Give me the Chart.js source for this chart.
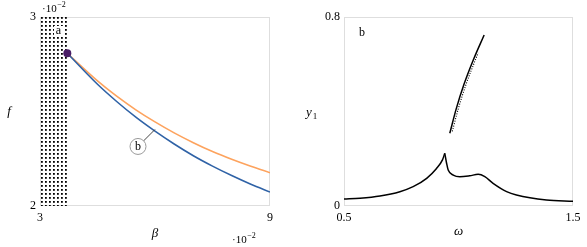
<!DOCTYPE html>
<html><head><meta charset="utf-8">
<script src="https://cdn.jsdelivr.net/npm/chart.js@4"></script>
<style>
html,body{margin:0;padding:0;background:#fff;overflow:hidden}
#wrap{position:relative;width:587px;height:247px}
canvas{position:absolute;top:0}
</style></head><body>
<div id="wrap">
<canvas id="cA" width="290" height="247" style="left:0"></canvas>
<canvas id="cB" width="297" height="247" style="left:290px"></canvas>
</div>
<script>
// ---- Panel a data (units of 10^-2) ----
const betaBlue   = [3.712, 4.5, 5.0, 5.5, 6.0, 6.5, 7.0, 7.5, 8.0, 8.5, 9.0];
const fBlue      = [2.808, 2.644, 2.553, 2.470, 2.396, 2.328, 2.266, 2.211, 2.161, 2.115, 2.074];
const betaOrange = [3.712, 4.5, 5.0, 5.5, 6.0, 6.5, 7.0, 7.5, 8.0, 8.5, 9.0];
const fOrange    = [2.808, 2.662, 2.581, 2.509, 2.445, 2.387, 2.335, 2.288, 2.247, 2.210, 2.176];
const onsetPoint = [3.712, 2.808];
const hatchRange = [3, 3.712];
const xTicksA = [3, 9];
const yTicksA = [2, 3];

// ---- Panel b data ----
const omegaLowL = [0.5, 0.570, 0.657, 0.744, 0.802, 0.861, 0.904, 0.930, 0.940];
const y1LowL    = [0.0296, 0.033, 0.0423, 0.0606, 0.0818, 0.117, 0.159, 0.195, 0.223];
const omegaLowR = [0.940, 0.948, 0.955, 0.977, 1.006, 1.049, 1.086, 1.115, 1.151, 1.210, 1.253, 1.384, 1.5];
const y1LowR    = [0.223, 0.181, 0.152, 0.131, 0.124, 0.128, 0.134, 0.124, 0.096, 0.061, 0.0466, 0.0254, 0.020];
const omegaUp   = [0.962, 0.990, 1.024, 1.065, 1.112];
const y1Up      = [0.308, 0.411, 0.515, 0.619, 0.724];
const omegaUpDot= [0.973, 0.999, 1.033, 1.074, 1.086];
const y1UpDot   = [0.316, 0.411, 0.515, 0.619, 0.648];
const xTicksB = [0.5, 1.5];
const yTicksB = [0, 0.8];

const SERIF = '"Liberation Serif", "DejaVu Serif", serif';
const zip = (xs, ys) => xs.map((x, i) => ({x, y: ys[i]}));

function txt(ctx, s, x, y, font, align, base, color) {
  ctx.save();
  ctx.font = font; ctx.textAlign = align || 'center'; ctx.textBaseline = base || 'middle';
  ctx.fillStyle = color || '#000';
  ctx.fillText(s, x, y);
  ctx.restore();
}
function expo(ctx, x, y) { // "·10^-2", x = left, y = baseline of 10
  ctx.save();
  ctx.fillStyle = '#000'; ctx.textBaseline = 'alphabetic'; ctx.textAlign = 'left';
  ctx.font = '11px ' + SERIF;
  ctx.fillText('\u00b710', x, y);
  const w = ctx.measureText('\u00b710').width;
  ctx.font = '8px ' + SERIF;
  ctx.fillText('\u22122', x + w + 0.5, y - 5);
  ctx.restore();
}

function axisCommon(min, max, tickVals, fmt, fitKey, fitVal, pad) {
  return {
    type: 'linear', min, max,
    afterBuildTicks: s => { s.ticks = tickVals.map(v => ({value: v})); },
    afterFit: s => { s[fitKey] = fitVal; },
    grid: {display: false, drawTicks: false},
    border: {display: false},
    ticks: {
      autoSkip: false, maxRotation: 0, padding: pad, color: '#000',
      font: {family: SERIF, size: 12},
      callback: fmt
    }
  };
}

const dotPattern = (() => {
  const c = document.createElement('canvas'); c.width = 4; c.height = 4;
  const g = c.getContext('2d'); g.fillStyle = '#000'; g.fillRect(1, 1, 1.8, 1.8);
  return c;
})();

// ---------------- Chart a ----------------
new Chart(document.getElementById('cA'), {
  type: 'line',
  data: {
    datasets: [
      {data: [{x: onsetPoint[0], y: onsetPoint[1]}], showLine: false, pointRadius: 4, pointBackgroundColor: '#4a1d66', pointBorderWidth: 0},
      {data: zip(betaBlue, fBlue), borderColor: '#2f62a6', borderWidth: 1.6, pointRadius: 0, cubicInterpolationMode: 'monotone', fill: false},
      {data: zip(betaOrange, fOrange), borderColor: '#fda35e', borderWidth: 1.6, pointRadius: 0, cubicInterpolationMode: 'monotone', fill: false}
    ]
  },
  options: {
    responsive: false, animation: false, devicePixelRatio: 1,
    layout: {padding: {left: 0, top: 17, right: 20, bottom: 0}},
    plugins: {legend: {display: false}, tooltip: {enabled: false}},
    scales: {
      x: axisCommon(3, 9, xTicksA, v => String(v), 'height', 41, 5),
      y: axisCommon(2, 3, yTicksA, v => String(v), 'width', 40, 4)
    }
  },
  plugins: [{
    id: 'annA',
    beforeDatasetsDraw(chart) {
      const ctx = chart.ctx, ca = chart.chartArea, sx = chart.scales.x;
      ctx.save();
      ctx.strokeStyle = '#dedede'; ctx.lineWidth = 1;
      ctx.strokeRect(ca.left + 0.5, ca.top + 0.5, ca.width - 1, ca.height - 1);
      const x0 = sx.getPixelForValue(hatchRange[0]), x1 = sx.getPixelForValue(hatchRange[1]);
      ctx.fillStyle = ctx.createPattern(dotPattern, 'repeat');
      ctx.fillRect(x0, ca.top, x1 - x0, ca.height);
      ctx.fillStyle = '#fff';
      ctx.fillRect(x0 + 14, ca.top + 9, 9, 11);
      ctx.restore();
      txt(ctx, 'a', x0 + 18.5, ca.top + 14, '12px ' + SERIF);
    },
    afterDatasetsDraw(chart) {
      const ctx = chart.ctx, ca = chart.chartArea, sx = chart.scales.x, sy = chart.scales.y;
      const px = sx.getPixelForValue(6.0), py = sy.getPixelForValue(2.405);
      const cx = px - 17, cy = py + 17;
      ctx.save();
      ctx.strokeStyle = '#444'; ctx.lineWidth = 1;
      ctx.beginPath(); ctx.moveTo(px, py); ctx.lineTo(cx + 5.5, cy - 5.5); ctx.stroke();
      ctx.fillStyle = '#fff'; ctx.strokeStyle = '#9a9a9a';
      ctx.beginPath(); ctx.arc(cx, cy, 8, 0, Math.PI * 2); ctx.fill(); ctx.stroke();
      ctx.restore();
      txt(ctx, 'b', cx, cy, '12px ' + SERIF);
      expo(ctx, ca.left + 2, 12);
      expo(ctx, ca.right - 38, 243);
      txt(ctx, '\u03b2', (ca.left + ca.right) / 2, 234, 'italic 13px ' + SERIF);
      txt(ctx, 'f', 9, 112, 'italic 13px ' + SERIF);
    }
  }]
});

// ---------------- Chart b ----------------
const blk = {borderColor: '#000', borderWidth: 1.5, pointRadius: 0, cubicInterpolationMode: 'monotone', fill: false};
new Chart(document.getElementById('cB'), {
  type: 'line',
  data: {
    datasets: [
      Object.assign({data: zip(omegaLowL, y1LowL)}, blk),
      Object.assign({data: zip(omegaLowR, y1LowR)}, blk),
      Object.assign({data: zip(omegaUp, y1Up)}, blk),
      Object.assign({data: zip(omegaUpDot, y1UpDot)}, blk, {borderWidth: 1.1, borderDash: [1, 1.5]})
    ]
  },
  options: {
    responsive: false, animation: false, devicePixelRatio: 1,
    layout: {padding: {left: 0, top: 17, right: 14, bottom: 0}},
    plugins: {legend: {display: false}, tooltip: {enabled: false}},
    scales: {
      x: axisCommon(0.5, 1.5, xTicksB, v => v.toFixed(1), 'height', 41, 5),
      y: axisCommon(0, 0.8, yTicksB, v => (v === 0 ? '0' : v.toFixed(1)), 'width', 54, 4)
    }
  },
  plugins: [{
    id: 'annB',
    beforeDatasetsDraw(chart) {
      const ctx = chart.ctx, ca = chart.chartArea;
      ctx.save();
      ctx.strokeStyle = '#dedede'; ctx.lineWidth = 1;
      ctx.strokeRect(ca.left + 0.5, ca.top + 0.5, ca.width - 1, ca.height - 1);
      ctx.restore();
    },
    afterDatasetsDraw(chart) {
      const ctx = chart.ctx, ca = chart.chartArea;
      txt(ctx, 'b', ca.left + 18, ca.top + 16, '12px ' + SERIF);
      txt(ctx, '\u03c9', (ca.left + ca.right) / 2, 232, 'italic 13px ' + SERIF);
      txt(ctx, 'y', 19, 113, 'italic 13px ' + SERIF);
      txt(ctx, '1', 25, 117, '9px ' + SERIF);
    }
  }]
});
</script>
</body></html>
